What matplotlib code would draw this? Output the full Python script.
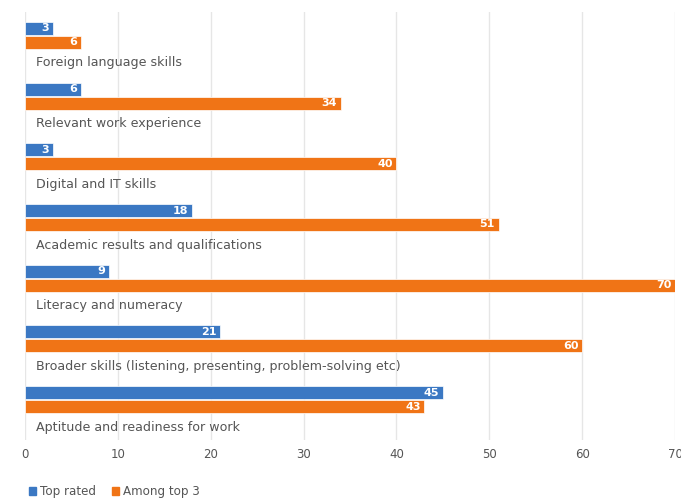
import numpy as np
import matplotlib.pyplot as plt
from matplotlib.patches import Patch

categories = [
    'Foreign language skills',
    'Relevant work experience',
    'Digital and IT skills',
    'Academic results and qualifications',
    'Literacy and numeracy',
    'Broader skills (listening, presenting, problem-solving etc)',
    'Aptitude and readiness for work',
]
top_rated = [3, 6, 3, 18, 9, 21, 45]
among_top3 = [6, 34, 40, 51, 70, 60, 43]

blue = '#3b78c3'
orange = '#f07416'
grey = '#555555'

plt.rcParams['font.family'] = ['DejaVu Sans']

fig = plt.figure(figsize=(6.81, 4.99), dpi=100)
ax = fig.add_axes([25 / 681, 59 / 499, 650 / 681, 428 / 499])

y = np.arange(len(categories))
h = 0.215
ax.barh(y, top_rated, height=h, color=blue, edgecolor='white', linewidth=0.5, zorder=3)
ax.barh(y + 0.23, among_top3, height=h, color=orange, edgecolor='white', linewidth=0.5, zorder=3)

for i in range(len(categories)):
    ax.text(top_rated[i] - 0.4, y[i], str(top_rated[i]), color='white', fontsize=8,
            fontweight='bold', ha='right', va='center', zorder=4)
    ax.text(among_top3[i] - 0.4, y[i] + 0.23, str(among_top3[i]), color='white', fontsize=8,
            fontweight='bold', ha='right', va='center', zorder=4)
    ax.text(1.2, y[i] + 0.57, categories[i], color=grey, fontsize=9.1, ha='left', va='center')

ax.set_xlim(0, 70)
ax.set_ylim(6.78, -0.27)
ax.set_xticks(range(0, 71, 10))
ax.set_yticks([])
ax.tick_params(axis='x', length=0, labelsize=8.5, labelcolor=grey, pad=6)
ax.grid(axis='x', color='#e6e6e6', linewidth=1, zorder=0)
for s in ax.spines.values():
    s.set_visible(False)

handles = [Patch(color=blue, label='Top rated'), Patch(color=orange, label='Among top 3')]
fig.legend(handles=handles, loc='lower left', bbox_to_anchor=(18 / 681, -0.02), ncol=2,
           frameon=False, fontsize=8.6, handlelength=0.6, handleheight=0.6,
           handletextpad=0.3, columnspacing=1.4, labelcolor=grey)

fig.savefig('out.png', dpi=100)
